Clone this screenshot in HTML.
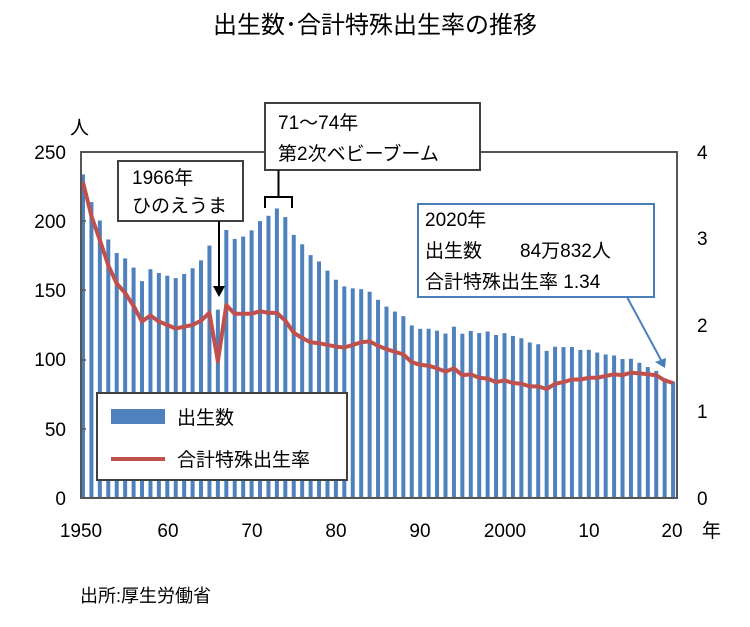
<!DOCTYPE html>
<html><head><meta charset="utf-8"><style>
body{margin:0;background:#fff}
svg text{font-family:"Liberation Sans","Noto Sans CJK JP",sans-serif;fill:#000}
</style></head><body>
<svg id="s" width="750" height="622" viewBox="0 0 750 622" xmlns="http://www.w3.org/2000/svg">
<rect width="750" height="622" fill="#fff"/>
<text x="375" y="33" font-size="24" text-anchor="middle">出生数･合計特殊出生率の推移</text>
<text x="70" y="134" font-size="19">人</text>
<g font-size="19" text-anchor="end">
<text x="66" y="159">250</text><text x="66" y="228">200</text><text x="66" y="297">150</text>
<text x="66" y="366">100</text><text x="66" y="436">50</text><text x="66" y="505">0</text>
</g>
<g font-size="19">
<text x="697" y="159">4</text><text x="697" y="245">3</text><text x="697" y="332">2</text>
<text x="697" y="418">1</text><text x="697" y="505">0</text>
</g>
<g font-size="19" text-anchor="middle">
<text x="81" y="537">1950</text><text x="168" y="537">60</text><text x="252" y="537">70</text>
<text x="336" y="537">80</text><text x="420" y="537">90</text><text x="505" y="537">2000</text>
<text x="589" y="537">10</text><text x="672" y="537">20</text>
</g>
<text x="702" y="537" font-size="19">年</text>
<text x="80" y="602" font-size="18">出所:厚生労働省</text>
<g id="bars"></g>
<polyline id="line" fill="none" stroke="#c0504d" stroke-width="4" stroke-linejoin="round"/>
<rect x="81" y="152" width="596" height="346" fill="none" stroke="#555" stroke-width="2"/>
<g stroke="#555" stroke-width="1.5">
<line x1="81" y1="221" x2="86" y2="221"/><line x1="81" y1="290" x2="86" y2="290"/>
<line x1="81" y1="360" x2="86" y2="360"/><line x1="81" y1="429" x2="86" y2="429"/>
</g>
<rect x="265" y="103" width="215" height="67" fill="#fff" stroke="#404040" stroke-width="2"/>
<text x="278" y="129" font-size="19">71～74年</text>
<text x="278" y="160" font-size="19">第2次ベビーブーム</text>
<path d="M265 208 V197 H292 V208 M278.5 197 V170" fill="none" stroke="#000" stroke-width="2"/>
<rect x="118" y="161" width="125" height="60" fill="#fff" stroke="#404040" stroke-width="2"/>
<text x="132" y="184" font-size="19">1966年</text>
<text x="132" y="212" font-size="19">ひのえうま</text>
<line x1="219" y1="221" x2="219" y2="288" stroke="#000" stroke-width="2"/>
<polygon points="213,286 225,286 219,297" fill="#000"/>
<rect x="418" y="204" width="236" height="93" fill="#fff" stroke="#4a7ebb" stroke-width="2"/>
<text x="425" y="226" font-size="19">2020年</text>
<text x="425" y="257" font-size="19">出生数　　84万832人</text>
<text x="425" y="288" font-size="19">合計特殊出生率 1.34</text>
<line x1="627" y1="297" x2="661" y2="360" stroke="#4a7ebb" stroke-width="2"/>
<polygon points="655,362 666,358 665,368" fill="#4a7ebb"/>
<rect x="97" y="393" width="250" height="87" fill="#fff" stroke="#404040" stroke-width="2"/>
<rect x="111" y="409" width="54" height="15" fill="#4f81bd"/>
<text x="177" y="424" font-size="19">出生数</text>
<line x1="111" y1="459" x2="165" y2="459" stroke="#c0504d" stroke-width="4"/>
<text x="177" y="466" font-size="19">合計特殊出生率</text>
</svg>
<script>
var B=[233.8,213.8,200.5,186.8,177.0,173.1,166.5,156.7,165.3,162.6,160.6,158.9,161.9,166.0,171.7,182.4,136.1,193.6,187.2,188.9,193.4,200.1,203.9,209.2,203.0,190.1,183.3,175.5,170.9,164.3,157.7,152.9,151.5,150.9,149.0,143.2,138.3,134.7,131.4,124.7,122.2,122.3,120.9,118.8,123.8,118.7,120.7,119.2,120.3,117.8,119.1,117.1,115.4,112.4,111.1,106.3,109.3,109.0,109.1,107.0,107.1,105.1,103.7,103.0,100.4,100.6,97.7,94.6,91.8,86.5,84.1];
var T=[3.65,3.26,2.98,2.69,2.48,2.37,2.22,2.04,2.11,2.04,2.00,1.96,1.98,2.00,2.05,2.14,1.58,2.23,2.13,2.13,2.13,2.16,2.14,2.14,2.05,1.91,1.85,1.80,1.79,1.77,1.75,1.74,1.77,1.80,1.81,1.76,1.72,1.69,1.66,1.57,1.54,1.53,1.50,1.46,1.50,1.42,1.43,1.39,1.38,1.34,1.36,1.33,1.32,1.29,1.29,1.26,1.32,1.34,1.37,1.37,1.39,1.39,1.41,1.43,1.42,1.45,1.44,1.43,1.42,1.36,1.33];
var g=document.getElementById('bars'),ns='http://www.w3.org/2000/svg',pts=[];
for(var i=0;i<71;i++){var x=83+i*8.43,h=B[i]*1.384;var r=document.createElementNS(ns,'rect');
r.setAttribute('x',x-2);r.setAttribute('y',498-h);r.setAttribute('width',4);r.setAttribute('height',h);r.setAttribute('fill','#4f81bd');g.appendChild(r);
pts.push(x.toFixed(1)+','+(498-T[i]*86.5).toFixed(1));}
document.getElementById('line').setAttribute('points',pts.join(' '));
</script>
</body></html>
